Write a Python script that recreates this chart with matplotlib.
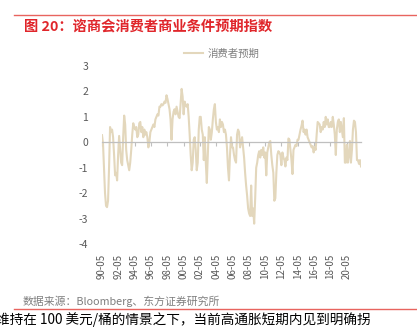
import matplotlib
matplotlib.use("Agg")
import matplotlib.pyplot as plt
import matplotlib.dates as mdates
from matplotlib.lines import Line2D
import pandas as pd
import numpy as np

plt.rcParams['font.family'] = ['Noto Sans CJK SC', 'DejaVu Sans']

title = "图 20：谘商会消费者商业条件预期指数"
series_name = "消费者预期"
source = "数据来源：Bloomberg、东方证券研究所"
footer = "维持在 100 美元/桶的情景之下，当前高通胀短期内见到明确拐"

start_date = "1990-05-01"
end_date = "2022-02-01"

values_a = [
    0.28, -0.05, -1.0, -2.0, -2.5, -2.55, -2.3, -1.0, 0.6, 0.4, 0.5, 0.2, -0.5, -1.3,
    -1.2, -1.5, -0.5, 0.25, -0.3, -0.8, -0.9, 0.2, 1.05, 0.7, -0.3, -0.7, -0.9, -1.1,
    -0.8, -0.3, 0.3, 0.75, 0.6, 0.5, 0.6, 0.2, 0.3, 0.75, 0.8, 0.4, 0.6, 0.2, 0.5, 0.3,
    0.4, 0.2, -0.2, 0.0, 0.4, 0.5, 0.6, 0.7, 0.6, 0.9, 1.0, 1.1, 1.05, 1.4, 1.4, 1.5,
    1.45, 1.5, 1.6, 1.55, 1.85, 1.7, 1.5, 1.3, 0.9, 0.1, 0.9, 1.2, 1.3, 1.1, 1.4, 1.2,
    1.0, 0.95, 1.5, 2.1, 1.8, 1.1, 1.6, 1.45, 1.4, 1.5, 1.0, 0.3, -0.5, -1.1, -0.8,
    0.1, 0.2, -0.3, -1.1, -0.8, 0.5, 1.0, 1.0, 0.5, 0.3, -0.7, 0.2, -0.8, -1.6, -0.5,
    0.6, 0.5, 0.1, 0.4, 0.9, 1.3, 1.5, 0.8, 0.5, 0.6, 0.4, 0.9, 0.6, 0.8, 0.7, 0.4,
    0.5, 0.3, -0.2, -1.0, -1.5, -0.5, 0.2, -0.2, -0.2, -0.5, -0.7, -0.8, 0.3, 0.5,
    0.4, -0.2,
]
values_b = [
    0.0, 0.2, -0.2, -0.6, -1.2, -1.7, -2.1, -2.6, -2.8, -2.9, -1.7, -2.9, -2.6, -3.2,
    -2.2, -1.0, -0.8, -0.5, -0.35, -0.6, -0.3, -0.5, -0.2, -0.6, -0.4, -1.3, -0.4,
    -0.2, 0.0, 0.05, -0.5, -0.9, -1.2, -2.3, -2.2, -1.2, -0.5, -0.35, -0.4, -0.5,
    -0.9, -0.4, -0.6, -0.7, -0.95, -0.6, -0.7, 0.15, 0.1, -0.3, -0.7, -1.25, -0.3,
    -0.2, -0.1, -0.15, 0.1, 0.1, 0.3, 0.5, 0.65, 0.85, 0.4, 0.5, 0.3, 0.5, 0.2, 0.1,
    0.0, -0.1, -0.2, -0.15, -0.4, -0.2, -0.3, 0.3, 0.8, 0.75, 0.7, 0.4, 0.6, 0.5,
    0.8, 0.6, 1.0, 0.7, 0.9, 0.6, 0.6, 0.8, 0.6, 1.0, 0.7, 0.3, -0.5, 0.5, 0.8, 0.9,
    0.4, 0.8, 0.5, 0.2, 0.95, -0.8, -0.8, -0.1, -0.8, -0.5, 0.05, -0.8, -0.3, 0.5,
    0.85, 0.8, 0.4, -0.7, -0.7, -0.85, -0.7, -0.95,
]
values = values_a + values_b

tick_years = list(range(1990, 2021, 2))
tick_labels = [f"{y % 100:02d}-05" for y in tick_years]
y_ticks = [-4, -3, -2, -1, 0, 1, 2, 3]

dates = pd.date_range(start_date, end_date, periods=len(values))
x = mdates.date2num(dates.to_pydatetime())
tick_pos = mdates.date2num([pd.Timestamp(f"{y}-05-01").to_pydatetime() for y in tick_years])

fig = plt.figure(figsize=(4.17, 3.33), dpi=100)
ax = fig.add_axes([102/417, 1-244/333, (361-102)/417, (244-66)/333])

ax.plot(x, values, color='#E3D7BC', lw=1.5, label=series_name, solid_joinstyle='round')
ax.set_xlim(x[0], x[-1])
ax.set_ylim(-4, 3)
ax.set_yticks(y_ticks)
ax.set_yticklabels([str(v) for v in y_ticks])
for s in ['top', 'right', 'left']:
    ax.spines[s].set_visible(False)
ax.spines['bottom'].set_position(('data', 0))
ax.spines['bottom'].set_color('#BFBFBF')
ax.spines['bottom'].set_linewidth(0.9)
ax.set_xticks(tick_pos)
ax.tick_params(axis='x', direction='out', length=3, color='#BFBFBF', labelbottom=False)
ax.tick_params(axis='y', length=0, pad=10, labelsize=7.5, labelcolor='#595959')

sec = ax.secondary_xaxis('bottom')
sec.set_xticks(tick_pos)
sec.set_xticklabels(tick_labels, rotation=90)
sec.tick_params(length=0, pad=7, labelsize=7, labelcolor='#595959')
sec.spines['bottom'].set_visible(False)

fig.legend(loc='center', bbox_to_anchor=(0.531, 0.838), frameon=False,
           handlelength=1.9, handletextpad=0.4, fontsize=7.5, labelcolor='#7F7F7F')

fig.text(24/417, 1-26/333, title, color='#E0262B', fontsize=10.3, weight='bold', va='center')
fig.text(23/417, 1-301/333, source, color='#7F7F7F', fontsize=7.8, va='center')
fig.text(-4/417, 1-320/333, footer, color='black', fontsize=9.8, va='center')

fig.add_artist(Line2D([14/417, 1], [1-14.5/333, 1-14.5/333], color='#E8645F', lw=1.0))
fig.add_artist(Line2D([14/417, 1], [1-309/333, 1-309/333], color='#E8645F', lw=1.0))

fig.savefig('out.png', dpi=100)
